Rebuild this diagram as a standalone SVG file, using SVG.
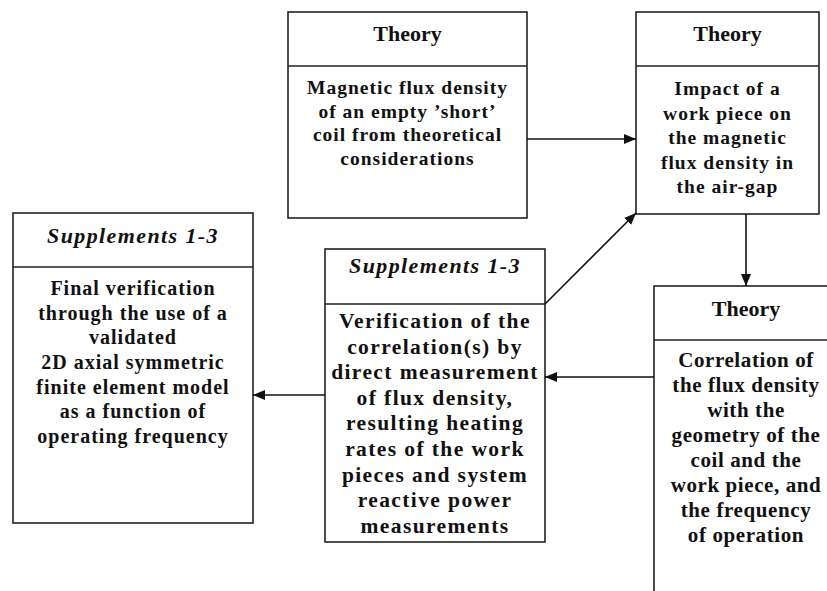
<svg xmlns="http://www.w3.org/2000/svg" width="827" height="591" viewBox="0 0 827 591">
<style>
.box{fill:#fff;stroke:#222;stroke-width:1.6}
.div{stroke:#222;stroke-width:1.6}
.hd{font-family:"Liberation Serif",serif;font-weight:bold;font-size:22px;fill:#111;text-anchor:middle}
.hi{font-family:"Liberation Serif",serif;font-weight:bold;font-style:italic;font-size:22px;letter-spacing:1.4px;fill:#111;text-anchor:middle}
.bd{font-family:"Liberation Serif",serif;font-weight:bold;fill:#111;text-anchor:middle}
.s1{font-size:19.5px;letter-spacing:1px}
.s3{font-size:20px;letter-spacing:1px}
.s4{font-size:21.5px;letter-spacing:1.4px}
.s5{font-size:21px;letter-spacing:0.6px}
.conn line{stroke:#111;stroke-width:1.6;fill:none;marker-end:url(#ah)}
</style>
<defs>
<marker id="ah" viewBox="0 0 12 10" refX="12" refY="5" markerWidth="12" markerHeight="10" markerUnits="userSpaceOnUse" orient="auto">
<path d="M0,0 L12,5 L0,10 z" fill="#111"/>
</marker>
</defs>
<rect width="827" height="591" fill="#fff"/>

<g id="theory1">
<rect class="box" x="288" y="12" width="239" height="206"/>
<line class="div" x1="288" y1="66" x2="527" y2="66"/>
<text class="hd" x="407.5" y="41">Theory</text>
<text class="bd s1" x="407.5" y="94">Magnetic flux density</text>
<text class="bd s1" x="407.5" y="117.5">of an empty ’short’</text>
<text class="bd s1" x="407.5" y="141">coil from theoretical</text>
<text class="bd s1" x="407.5" y="164.5">considerations</text>
</g>

<g id="theory2">
<rect class="box" x="636" y="12" width="183" height="202"/>
<line class="div" x1="636" y1="66" x2="819" y2="66"/>
<text class="hd" x="727.5" y="41">Theory</text>
<text class="bd s1" x="727.5" y="95">Impact of a</text>
<text class="bd s1" x="727.5" y="119.5">work piece on</text>
<text class="bd s1" x="727.5" y="144">the magnetic</text>
<text class="bd s1" x="727.5" y="168.5">flux density in</text>
<text class="bd s1" x="727.5" y="193">the air-gap</text>
</g>

<g id="supplements-final">
<rect class="box" x="13" y="213" width="240" height="310"/>
<line class="div" x1="13" y1="267" x2="253" y2="267"/>
<text class="hi" x="133" y="243">Supplements 1-3</text>
<text class="bd s3" x="133" y="295">Final verification</text>
<text class="bd s3" x="133" y="320">through the use of a</text>
<text class="bd s3" x="133" y="344">validated</text>
<text class="bd s3" x="133" y="369">2D axial symmetric</text>
<text class="bd s3" x="133" y="394">finite element model</text>
<text class="bd s3" x="133" y="418">as a function of</text>
<text class="bd s3" x="133" y="443">operating frequency</text>
</g>

<g id="supplements-verification">
<rect class="box" x="325" y="249" width="220" height="293"/>
<line class="div" x1="325" y1="304" x2="545" y2="304"/>
<text class="hi" x="435" y="273">Supplements 1-3</text>
<text class="bd s4" x="435" y="328">Verification of the</text>
<text class="bd s4" x="435" y="353.6">correlation(s) by</text>
<text class="bd s4" x="435" y="379.2">direct measurement</text>
<text class="bd s4" x="435" y="404.8">of flux density,</text>
<text class="bd s4" x="435" y="430.4">resulting heating</text>
<text class="bd s4" x="435" y="456">rates of the work</text>
<text class="bd s4" x="435" y="481.6">pieces and system</text>
<text class="bd s4" x="435" y="507.2">reactive power</text>
<text class="bd s4" x="435" y="532.8">measurements</text>
</g>

<g id="theory3">
<rect class="box" x="654" y="286" width="200" height="400"/>
<line class="div" x1="654" y1="340" x2="854" y2="340"/>
<text class="hd" x="746" y="316">Theory</text>
<text class="bd s5" x="746" y="367">Correlation of</text>
<text class="bd s5" x="746" y="392">the flux density</text>
<text class="bd s5" x="746" y="417">with the</text>
<text class="bd s5" x="746" y="442">geometry of the</text>
<text class="bd s5" x="746" y="467">coil and the</text>
<text class="bd s5" x="746" y="492">work piece, and</text>
<text class="bd s5" x="746" y="517">the frequency</text>
<text class="bd s5" x="746" y="542">of operation</text>
</g>

<g id="connectors" class="conn">
<line x1="527" y1="139" x2="636" y2="139"/>
<line x1="746" y1="214" x2="746" y2="286"/>
<line x1="654" y1="377" x2="545" y2="377"/>
<line x1="325" y1="395" x2="253" y2="395"/>
<line x1="545" y1="304" x2="636" y2="213"/>
</g>
</svg>
